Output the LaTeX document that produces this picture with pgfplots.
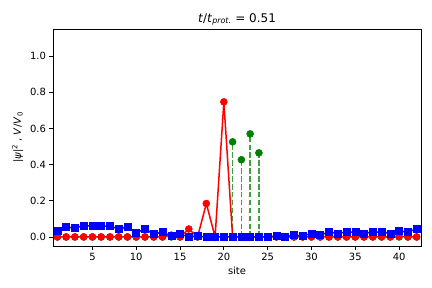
\documentclass[border=0pt]{standalone}
\usepackage{fontspec}
\setmainfont{DejaVu Sans}
\usepackage{pgfplots}
\pgfplotsset{compat=1.18}
\definecolor{mplgreen}{rgb}{0,0.5,0}
\begin{document}
\begin{tikzpicture}
\path[use as bounding box] (-53bp,-42bp) rectangle (379bp,246bp);
\begin{axis}[
  at={(0,0)}, anchor=south west,
  scale only axis, width=368bp, height=217bp,
  xmin=0.5, xmax=42.5, ymin=-0.05, ymax=1.15,
  xtick={5,10,...,40}, ytick={0,0.2,...,1.0},
  yticklabel style={/pgf/number format/fixed, /pgf/number format/fixed zerofill, /pgf/number format/precision=1},
  /pgf/number format/assume math mode=true,
  tick pos=left, tick align=outside,
  major tick length=3.5bp,
  every tick/.style={black, line width=0.8bp},
  axis line style={line width=0.8bp},
  tick label style={font=\fontsize{10}{12}\selectfont},
  label style={font=\fontsize{10}{12}\selectfont},
  xlabel={site},
  ylabel={|\textit{ψ}|\textsuperscript{2} , \textit{V}/\textit{V}\textsubscript{0}},
  title={\textit{t}/\textit{t}\textsubscript{\textit{prot.}} = 0.51},
  title style={font=\fontsize{12}{14}\selectfont, yshift=-6bp},
  clip=false,
]
% green stems
\addplot[mplgreen!75!white, line width=1.6bp, dash pattern=on 5.5bp off 2.4bp, ycomb, forget plot] coordinates {
(21,0.526) (22,0.427) (23,0.57) (24,0.465)};
\addplot[only marks, mark=*, mark size=3.5bp, mplgreen, mark options={fill=mplgreen, draw=mplgreen, line width=0.5bp}] coordinates {
(1,0)(2,0)(3,0)(4,0)(5,0)(6,0)(7,0)(8,0)(9,0)(10,0)(11,0)(12,0)(13,0)(14,0)(15,0)(16,0)(17,0)(18,0)(19,0)(20,0)
(21,0.526) (22,0.427) (23,0.57) (24,0.465)
(25,0)(26,0)(27,0)(28,0)(29,0)(30,0)(31,0)(32,0)(33,0)(34,0)(35,0)(36,0)(37,0)(38,0)(39,0)(40,0)(41,0)(42,0)};
% red psi^2
\addplot[red, line width=1.5bp, mark=*, mark size=3.5bp, mark options={fill=red, draw=red, line width=0.5bp}] coordinates {
(1,0)(2,0)(3,0)(4,0)(5,0)(6,0)(7,0)(8,0)(9,0)(10,0)(11,0)(12,0)(13,0)(14,0.01)(15,0)(16,0.044)(17,0)(18,0.185)(19,0)(20,0.747)
(21,0)(22,0)(23,0)(24,0)(25,0)(26,0)(27,0)(28,0)(29,0)(30,0)(31,0)(32,0)(33,0)(34,0)(35,0)(36,0)(37,0)(38,0)(39,0)(40,0.003)(41,0)(42,0)};
% blue potential
\addplot[blue, line width=1.5bp, mark=square*, mark size=3.5bp, mark options={fill=blue, draw=blue, line width=0.5bp}] coordinates {
(1,0.033)(2,0.055)(3,0.049)(4,0.064)(5,0.06)(6,0.06)(7,0.06)(8,0.044)(9,0.055)(10,0.024)(11,0.044)(12,0.016)(13,0.027)(14,0.005)(15,0.016)(16,0)(17,0.005)(18,0)(19,0)(20,0)
(21,0)(22,0)(23,0)(24,0)(25,0)(26,0.005)(27,0)(28,0.011)(29,0.005)(30,0.02)(31,0.011)(32,0.027)(33,0.02)(34,0.027)(35,0.027)(36,0.02)(37,0.027)(38,0.027)(39,0.02)(40,0.033)(41,0.027)(42,0.044)};
\end{axis}
\end{tikzpicture}
\end{document}
